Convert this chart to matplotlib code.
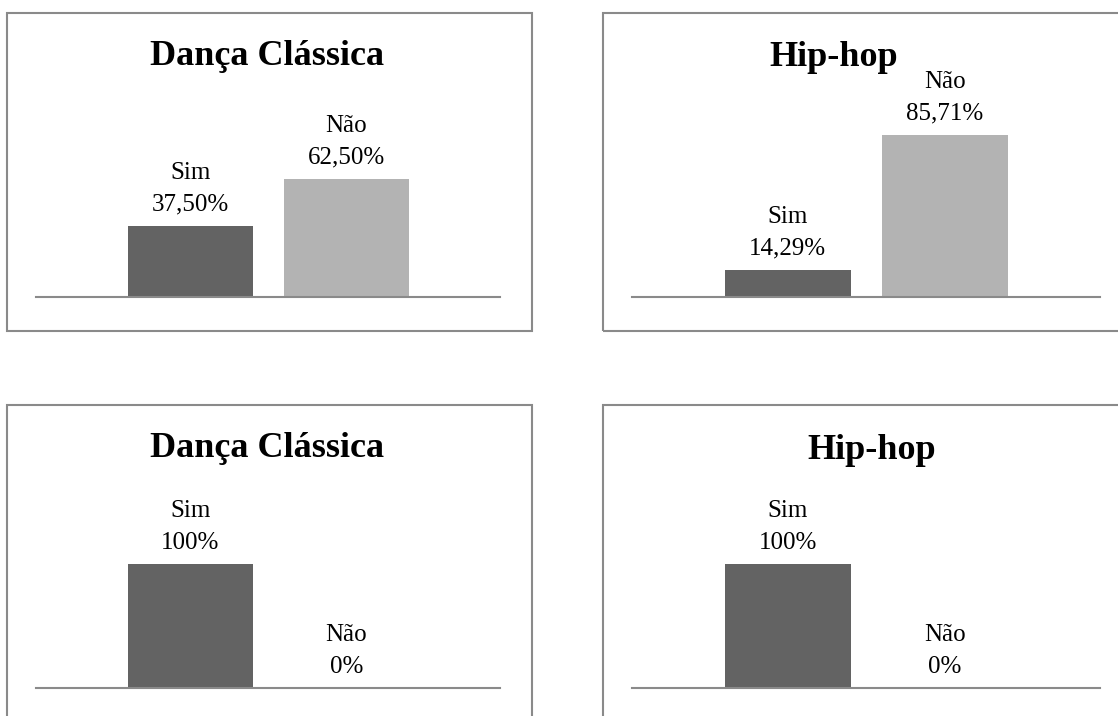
import matplotlib
matplotlib.use("Agg")
import matplotlib.pyplot as plt
from matplotlib.patches import Rectangle

plt.rcParams['font.family'] = ['Liberation Serif', 'DejaVu Serif']

# dados
titulos = ["Dança Clássica", "Hip-hop", "Dança Clássica", "Hip-hop"]
categorias = ["Sim", "Não"]
sim = [37.50, 14.29, 100, 100]
nao = [62.50, 85.71, 0, 0]
sim_txt = ["37,50%", "14,29%", "100%", "100%"]
nao_txt = ["62,50%", "85,71%", "0%", "0%"]

cores = ["#636363", "#b3b3b3"]
cinza = "#8a8a8a"

W, H = 1118, 716
fig = plt.figure(figsize=(W / 100, H / 100), dpi=100)

def fx(px):
    return px / W

def fy(py):
    return 1 - py / H

# caixas (px): x0, y0, x1, y1
caixas = [(7, 13, 532, 331), (603, 13, 1125, 331),
          (7, 405, 532, 730), (603, 405, 1125, 730)]
# area dos eixos: x0, x1, linha base, topo (100%)
eixos = [(36, 500, 297, 108), (632, 1100, 297, 108),
         (36, 500, 688, 564), (632, 1100, 688, 564)]
# posicao dos titulos (centro x, linha de base)
tit_pos = [(267, 65), (834, 66), (267, 457), (872, 459)]

for i in range(4):
    x0, y0, x1, y1 = caixas[i]
    fig.patches.append(Rectangle((fx(x0), fy(y1)), fx(x1) - fx(x0), fy(y0) - fy(y1),
                                 transform=fig.transFigure, fill=False,
                                 edgecolor=cinza, linewidth=1.5))
    a0, a1, base, topo = eixos[i]
    ax = fig.add_axes([fx(a0), fy(base), fx(a1) - fx(a0), fy(topo) - fy(base)])
    ax.set_xlim(-1, 1)
    ax.set_ylim(0, 100)
    vals = [sim[i], nao[i]]
    txts = [sim_txt[i], nao_txt[i]]
    pos = [-0.334, 0.338]
    ax.bar(pos, vals, width=0.538, color=cores)
    for p, v, c, t in zip(pos, vals, categorias, txts):
        ax.annotate(c + "\n" + t, (p, v), xytext=(0, 7.5), textcoords="offset points",
                    ha="center", va="bottom", fontsize=18, linespacing=1.55)
    for s in ["top", "left", "right"]:
        ax.spines[s].set_visible(False)
    ax.spines["bottom"].set_color(cinza)
    ax.spines["bottom"].set_linewidth(1.5)
    ax.set_xticks([])
    ax.set_yticks([])
    ax.patch.set_alpha(0)
    tx, ty = tit_pos[i]
    fig.text(fx(tx), fy(ty), titulos[i], ha="center", va="baseline",
             fontsize=26, fontweight="bold")

fig.savefig("out.png", dpi=100)
